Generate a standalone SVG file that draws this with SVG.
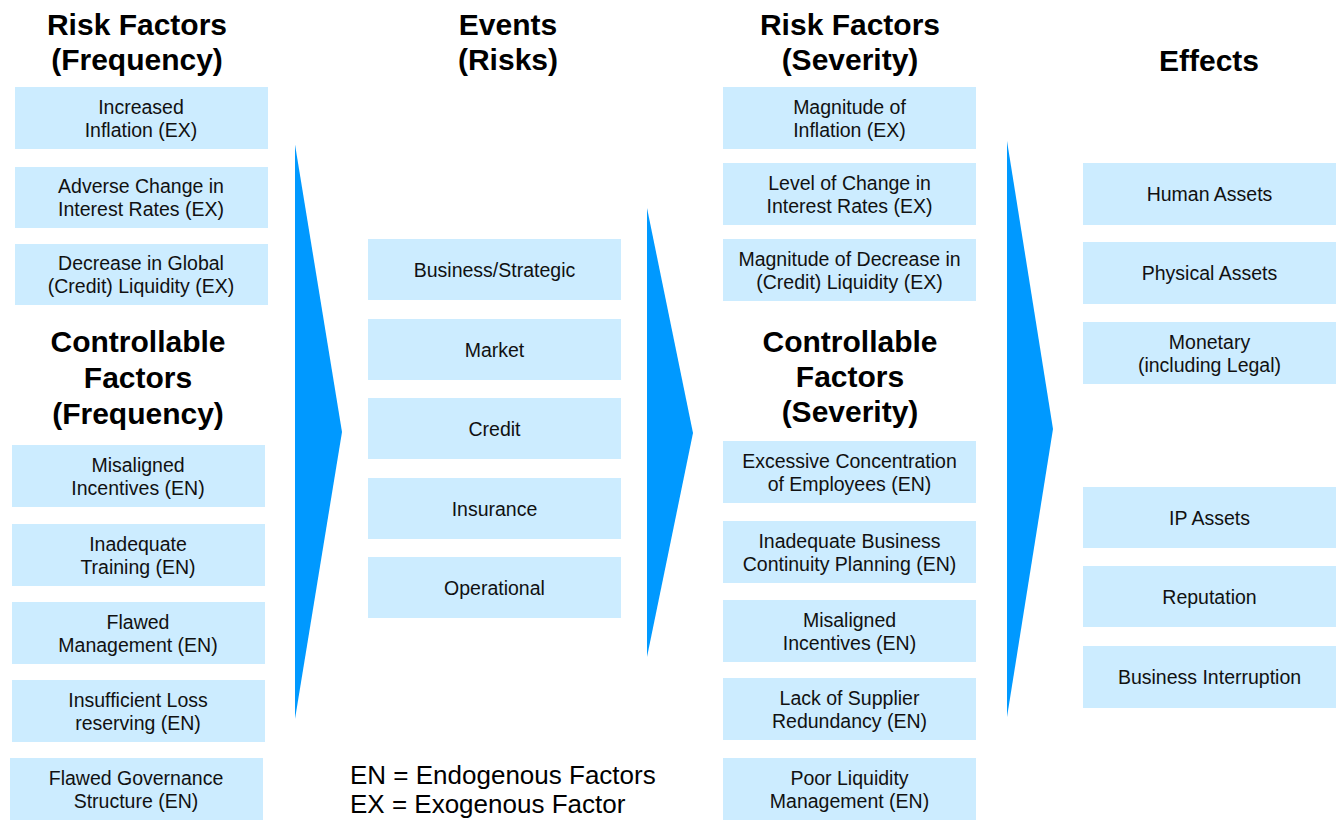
<svg xmlns="http://www.w3.org/2000/svg" width="1343" height="820" viewBox="0 0 1343 820">
<style>
.bx{fill:#CCECFF}
.t{font-family:"Liberation Sans",Arial,sans-serif;font-size:19.5px;fill:#111;text-anchor:middle}
.h{font-family:"Liberation Sans",Arial,sans-serif;font-size:30px;font-weight:bold;fill:#000;text-anchor:middle}
.lg{font-family:"Liberation Sans",Arial,sans-serif;font-size:26px;fill:#000}
.ar{fill:#0099FF}
</style>
<rect width="1343" height="820" fill="#fff"/>
<g id="headings">
<text class="h" x="137" y="35">Risk Factors</text>
<text class="h" x="137" y="70">(Frequency)</text>
<text class="h" x="508" y="35">Events</text>
<text class="h" x="508" y="70">(Risks)</text>
<text class="h" x="850" y="35">Risk Factors</text>
<text class="h" x="850" y="70">(Severity)</text>
<text class="h" x="1209" y="71">Effects</text>
<text class="h" x="138" y="352">Controllable</text>
<text class="h" x="138" y="388">Factors</text>
<text class="h" x="138" y="424">(Frequency)</text>
<text class="h" x="850" y="352">Controllable</text>
<text class="h" x="850" y="387">Factors</text>
<text class="h" x="850" y="422">(Severity)</text>
</g>
<g id="connectors">
<polygon class="ar" points="295,144.5 342,432 295,719"/>
<polygon class="ar" points="647,208 693,433 647,657"/>
<polygon class="ar" points="1007,141 1053,429 1007,717"/>
</g>
<g id="f1"><rect class="bx" x="15" y="87" width="253" height="62"/><text class="t" x="141" y="114">Increased</text><text class="t" x="141" y="137">Inflation (EX)</text></g>
<g id="f2"><rect class="bx" x="15" y="167" width="253" height="61"/><text class="t" x="141" y="193">Adverse Change in</text><text class="t" x="141" y="216">Interest Rates (EX)</text></g>
<g id="f3"><rect class="bx" x="15" y="244" width="253" height="61"/><text class="t" x="141" y="270">Decrease in Global</text><text class="t" x="141" y="293">(Credit) Liquidity (EX)</text></g>
<g id="c1"><rect class="bx" x="12" y="445" width="253" height="62"/><text class="t" x="138" y="472">Misaligned</text><text class="t" x="138" y="495">Incentives (EN)</text></g>
<g id="c2"><rect class="bx" x="12" y="524" width="253" height="62"/><text class="t" x="138" y="551">Inadequate</text><text class="t" x="138" y="574">Training (EN)</text></g>
<g id="c3"><rect class="bx" x="12" y="602" width="253" height="62"/><text class="t" x="138" y="629">Flawed</text><text class="t" x="138" y="652">Management (EN)</text></g>
<g id="c4"><rect class="bx" x="12" y="680" width="253" height="62"/><text class="t" x="138" y="707">Insufficient Loss</text><text class="t" x="138" y="730">reserving (EN)</text></g>
<g id="c5"><rect class="bx" x="10" y="758" width="253" height="62"/><text class="t" x="136" y="785">Flawed Governance</text><text class="t" x="136" y="808">Structure (EN)</text></g>
<g id="e1"><rect class="bx" x="368" y="239" width="253" height="61"/><text class="t" x="494.5" y="277">Business/Strategic</text></g>
<g id="e2"><rect class="bx" x="368" y="319" width="253" height="61"/><text class="t" x="494.5" y="357">Market</text></g>
<g id="e3"><rect class="bx" x="368" y="398" width="253" height="61"/><text class="t" x="494.5" y="436">Credit</text></g>
<g id="e4"><rect class="bx" x="368" y="478" width="253" height="61"/><text class="t" x="494.5" y="516">Insurance</text></g>
<g id="e5"><rect class="bx" x="368" y="557" width="253" height="61"/><text class="t" x="494.5" y="595">Operational</text></g>
<g id="s1"><rect class="bx" x="723" y="87" width="253" height="62"/><text class="t" x="849.5" y="114">Magnitude of</text><text class="t" x="849.5" y="137">Inflation (EX)</text></g>
<g id="s2"><rect class="bx" x="723" y="163" width="253" height="62"/><text class="t" x="849.5" y="190">Level of Change in</text><text class="t" x="849.5" y="213">Interest Rates (EX)</text></g>
<g id="s3"><rect class="bx" x="723" y="239" width="253" height="62"/><text class="t" x="849.5" y="266">Magnitude of Decrease in</text><text class="t" x="849.5" y="289">(Credit) Liquidity (EX)</text></g>
<g id="s4"><rect class="bx" x="723" y="441" width="253" height="62"/><text class="t" x="849.5" y="468">Excessive Concentration</text><text class="t" x="849.5" y="491">of Employees (EN)</text></g>
<g id="s5"><rect class="bx" x="723" y="521" width="253" height="62"/><text class="t" x="849.5" y="548">Inadequate Business</text><text class="t" x="849.5" y="571">Continuity Planning (EN)</text></g>
<g id="s6"><rect class="bx" x="723" y="600" width="253" height="62"/><text class="t" x="849.5" y="627">Misaligned</text><text class="t" x="849.5" y="650">Incentives (EN)</text></g>
<g id="s7"><rect class="bx" x="723" y="678" width="253" height="62"/><text class="t" x="849.5" y="705">Lack of Supplier</text><text class="t" x="849.5" y="728">Redundancy (EN)</text></g>
<g id="s8"><rect class="bx" x="723" y="758" width="253" height="62"/><text class="t" x="849.5" y="785">Poor Liquidity</text><text class="t" x="849.5" y="808">Management (EN)</text></g>
<g id="x1"><rect class="bx" x="1083" y="163" width="253" height="62"/><text class="t" x="1209.5" y="201">Human Assets</text></g>
<g id="x2"><rect class="bx" x="1083" y="242" width="253" height="62"/><text class="t" x="1209.5" y="280">Physical Assets</text></g>
<g id="x3"><rect class="bx" x="1083" y="322" width="253" height="62"/><text class="t" x="1209.5" y="349">Monetary</text><text class="t" x="1209.5" y="372">(including Legal)</text></g>
<g id="x4"><rect class="bx" x="1083" y="487" width="253" height="61"/><text class="t" x="1209.5" y="525">IP Assets</text></g>
<g id="x5"><rect class="bx" x="1083" y="566" width="253" height="61"/><text class="t" x="1209.5" y="604">Reputation</text></g>
<g id="x6"><rect class="bx" x="1083" y="646" width="253" height="62"/><text class="t" x="1209.5" y="684">Business Interruption</text></g>
<g id="legend">
<text class="lg" x="350" y="784">EN = Endogenous Factors</text>
<text class="lg" x="350" y="813">EX = Exogenous Factor</text>
</g>
</svg>
